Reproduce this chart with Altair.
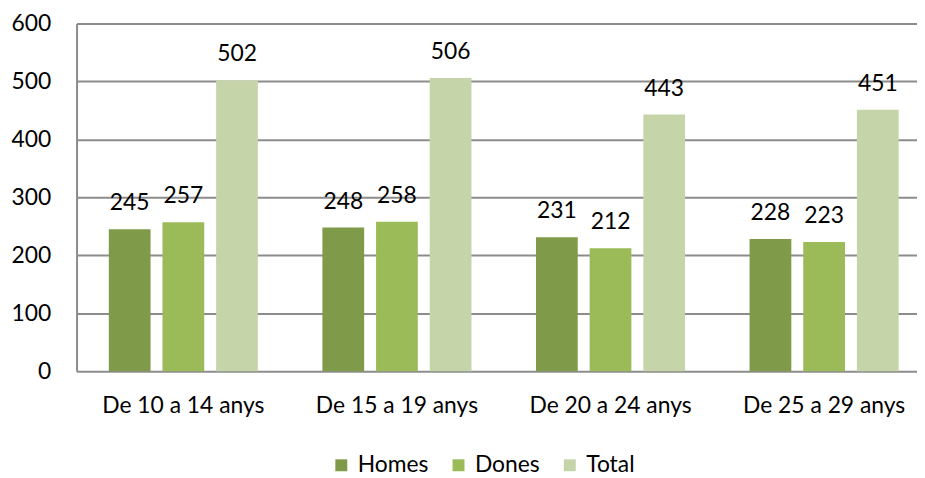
import altair as alt
import pandas as pd

categories = ["De 10 a 14 anys", "De 15 a 19 anys", "De 20 a 24 anys", "De 25 a 29 anys"]
series = ["Homes", "Dones", "Total"]
homes = [245, 248, 231, 228]
dones = [257, 258, 212, 223]
total = [502, 506, 443, 451]
colors = ["#7f9a48", "#9bbb59", "#c5d5a9"]

rows = []
for i, c in enumerate(categories):
    for s, vals in zip(series, [homes, dones, total]):
        rows.append({"cat": c, "serie": s, "val": vals[i]})
df = pd.DataFrame(rows)

FONT = "Lato"
FS = 23

base = alt.Chart(df).encode(
    x=alt.X("cat:N", sort=categories, title=None,
            scale=alt.Scale(range=[0, 860], paddingInner=0.302, paddingOuter=0.151),
            axis=alt.Axis(labelAngle=0, domain=False, ticks=False, labelFontSize=FS,
                          labelFont=FONT, labelColor="#000000", labelPadding=24)),
    xOffset=alt.XOffset("serie:N", sort=series,
                        scale=alt.Scale(paddingInner=0.222, paddingOuter=0)),
    y=alt.Y("val:Q", title=None,
            scale=alt.Scale(domain=[0, 600]),
            axis=alt.Axis(values=[0, 100, 200, 300, 400, 500, 600], ticks=False,
                          domainColor="#8c8c8c", domainWidth=2,
                          gridColor="#8c8c8c", gridWidth=2,
                          labelFontSize=FS, labelFont=FONT, labelColor="#000000",
                          labelPadding=26)),
)

bars = base.mark_bar().encode(
    color=alt.Color("serie:N", sort=series,
                    scale=alt.Scale(domain=series, range=colors),
                    legend=alt.Legend(title=None, orient="none", direction="horizontal",
                                      legendX=255, legendY=433,
                                      symbolType="square", symbolSize=144,
                                      symbolStrokeWidth=0,
                                      labelFontSize=FS, labelFont=FONT,
                                      labelColor="#000000", columnPadding=18,
                                      labelOffset=5)),
)

labels = base.mark_text(dy=-26, fontSize=FS, font=FONT, color="#000000").encode(
    text=alt.Text("val:Q"),
)

chart = (bars + labels).properties(
    width=846, height=350,
    autosize=alt.AutoSizeParams(type="none"),
    padding={"left": 69, "top": 14, "right": 0, "bottom": 106},
).configure_view(stroke=None)

chart.save("out.html", embed_options={"renderer": "svg", "actions": False})
